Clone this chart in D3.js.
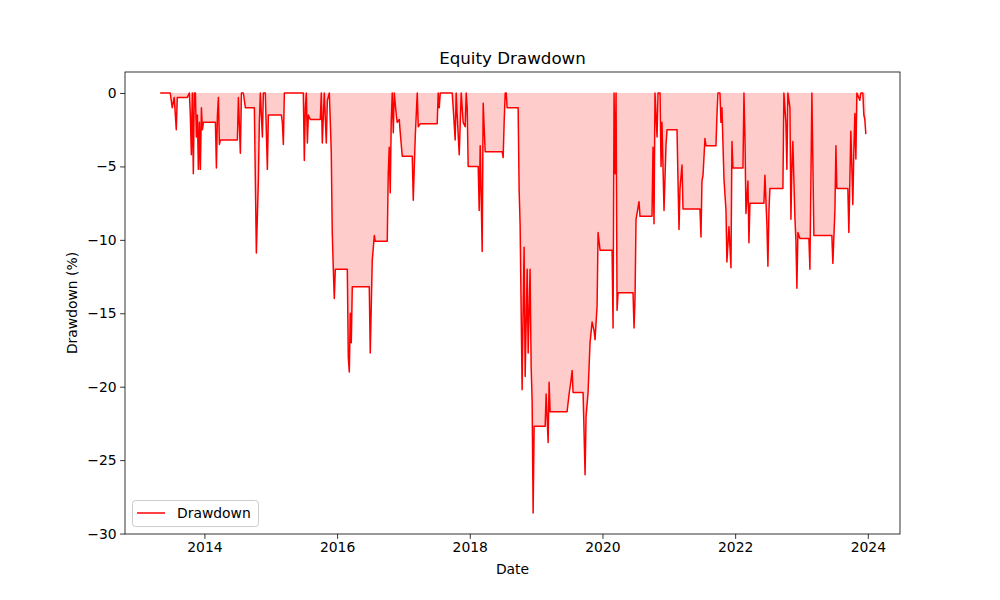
<!DOCTYPE html>
<html><head><meta charset="utf-8">
<script src="https://cdn.jsdelivr.net/npm/d3@7"></script>
<style>body{margin:0;background:#fff;} svg{display:block;font-family:"DejaVu Sans",sans-serif;}</style>
</head><body>
<svg id="c" width="1000" height="600"></svg>
<script>
// decimal years (x) and drawdown in % (y)
const dates = [
2013.333,2013.485,2013.515,2013.545,2013.576,2013.591,2013.742,2013.773,2013.788,2013.803,
2013.818,2013.833,2013.848,2013.864,2013.879,2013.894,2013.909,2013.924,2013.939,2013.955,
2013.970,2013.985,2014.166,2014.181,2014.196,2014.211,2014.226,2014.241,2014.497,2014.512,
2014.542,2014.558,2014.587,2014.617,2014.753,2014.783,2014.813,2014.828,2014.843,2014.874,
2014.889,2014.918,2014.949,2014.964,2015.160,2015.175,2015.190,2015.205,2015.220,2015.491,
2015.506,2015.521,2015.536,2015.552,2015.567,2015.596,2015.747,2015.762,2015.777,2015.807,
2015.837,2015.853,2015.883,2015.898,2015.912,2015.927,2015.943,2015.958,2015.973,2016.154,
2016.169,2016.184,2016.199,2016.214,2016.229,2016.485,2016.500,2016.530,2016.561,2016.575,
2016.756,2016.771,2016.786,2016.801,2016.816,2016.831,2016.847,2016.862,2016.892,2016.906,
2016.937,2016.952,2016.982,2017.133,2017.148,2017.178,2017.208,2017.223,2017.253,2017.509,
2017.524,2017.540,2017.555,2017.735,2017.750,2017.780,2017.795,2017.810,2017.841,2017.871,
2017.900,2017.931,2017.946,2017.961,2017.976,2018.127,2018.142,2018.157,2018.172,2018.187,
2018.202,2018.232,2018.488,2018.503,2018.518,2018.534,2018.549,2018.563,2018.729,2018.744,
2018.759,2018.789,2018.804,2018.819,2018.835,2018.865,2018.880,2018.909,2018.925,2018.940,
2018.955,2018.970,2019.136,2019.151,2019.181,2019.196,2019.211,2019.467,2019.497,2019.528,
2019.543,2019.557,2019.708,2019.738,2019.753,2019.783,2019.813,2019.844,2019.874,2019.888,
2019.919,2019.934,2019.964,2020.145,2020.160,2020.175,2020.190,2020.205,2020.220,2020.235,
2020.461,2020.476,2020.491,2020.506,2020.551,2020.566,2020.747,2020.762,2020.777,2020.792,
2020.823,2020.838,2020.868,2020.883,2020.897,2020.928,2020.958,2020.973,2021.124,2021.139,
2021.154,2021.169,2021.199,2021.214,2021.470,2021.485,2021.500,2021.516,2021.545,2021.560,
2021.711,2021.726,2021.741,2021.771,2021.786,2021.801,2021.832,2021.862,2021.876,2021.907,
2021.922,2021.937,2021.952,2021.967,2022.118,2022.133,2022.148,2022.163,2022.193,2022.208,
2022.223,2022.434,2022.449,2022.479,2022.494,2022.510,2022.524,2022.720,2022.735,2022.765,
2022.780,2022.795,2022.826,2022.841,2022.856,2022.870,2022.901,2022.916,2022.931,2022.946,
2022.976,2023.112,2023.127,2023.157,2023.187,2023.458,2023.473,2023.504,2023.519,2023.533,
2023.699,2023.714,2023.729,2023.744,2023.759,2023.774,2023.789,2023.805,2023.820,2023.835,
2023.879,2023.895,2023.925,2023.940,2023.955,2023.970
];
const drawdown = [
0,0,-1.0,-0.3,-2.5,-0.3,-0.3,0,-1.5,-4.2,
0,-5.5,0,0,-3.0,-1.5,-5.2,-2.0,-5.2,-1.0,
-2.5,-2.0,-2.0,-5.1,-1.5,-0.3,-3.5,-3.2,-3.2,-0.3,
-4.1,0,0,-1.0,-1.0,-10.9,-6.0,-2.0,0,-3.0,
0,0,-5.2,-1.5,-1.5,-2.0,-3.5,0,0,0,
-4.6,-1.0,0,-3.4,-1.5,-1.8,-1.8,0,-3.4,0,
-3.4,-0.5,0,-2.0,-4.0,-9.5,-12.0,-14.0,-12.0,-12.0,
-18.0,-19.0,-15.0,-17.0,-13.2,-13.2,-17.7,-11.4,-9.7,-10.1,
-10.1,-5.5,-3.7,-6.8,-2.0,0,-2.7,0,-1.5,-2.0,
-1.8,-2.7,-4.3,-4.3,-7.3,-3.0,0,-2.3,-2.1,-2.1,
0,-1.0,0,0,-1.0,-3.2,0,-1.5,-4.2,0,
-2.0,-2.3,0,-1.0,-5.0,-5.0,-8.0,-3.6,-7.0,-10.8,
-0.7,-4.0,-4.0,-4.4,-2.0,0,0,-1.0,-1.0,-6.6,
-9.0,-20.2,-15.0,-10.5,-19.3,-12.0,-17.7,-12.0,-18.6,-21.0,
-28.6,-22.7,-22.7,-20.5,-23.8,-19.7,-21.7,-21.7,-20.5,-19.5,
-18.9,-20.4,-20.4,-26.0,-22.0,-20.4,-17.0,-15.6,-16.2,-16.8,
-14.5,-9.5,-10.7,-10.7,-16.0,0,-5.5,0,-14.8,-13.6,
-13.6,-16.0,-14.0,-8.6,-7.4,-8.4,-8.4,-3.7,-8.9,0,
-3.0,0,0,-5.0,-2.0,-8.0,-3.5,-2.5,-2.5,-6.0,
-9.3,-6.5,-4.9,-7.9,-7.9,-9.8,-6.0,-5.6,-3.1,-3.6,
-3.6,-1.5,0,0,-2.0,-1.0,-5.9,-8.0,-11.5,-9.1,
-10.5,-11.9,-3.3,-5.1,-5.1,0,-3.0,-8.2,-6.0,-10.2,
-7.5,-7.5,-5.6,-9.0,-11.8,-8.0,-6.5,-6.5,0,-2.0,
-5.2,0,-1.0,-8.6,-5.0,-3.3,-8.5,-10.0,-13.3,-9.5,
-9.9,-9.9,-12.0,0,-9.7,-9.7,-11.6,-8.0,-3.6,-6.5,
-6.5,-9.5,-6.0,-2.6,-5.0,-7.6,-4.0,-1.4,-4.5,0,
-0.5,0,0,-1.5,-1.8,-2.8
];
const xTicks = [2014, 2016, 2018, 2020, 2022, 2024];
const yTicks = [0, -5, -10, -15, -20, -25, -30];
const title = "Equity Drawdown";
const xLabel = "Date";
const yLabel = "Drawdown (%)";
const seriesName = "Drawdown";

const data = dates.map((d, i) => ({x: d, y: drawdown[i]}));
const L = 125, R = 900, T = 72, B = 534;
const svg = d3.select("#c");
const x = d3.scaleLinear().domain([2012.803, 2024.485]).range([L, R]);
const y = d3.scaleLinear().domain([-30.03, 1.43]).range([B, T]);

svg.append("path").datum(data)
  .attr("d", d3.area().x(d => x(d.x)).y0(y(0)).y1(d => y(d.y)))
  .attr("fill", "rgba(255,0,0,0.2)").attr("stroke", "none");
svg.append("path").datum(data)
  .attr("d", d3.line().x(d => x(d.x)).y(d => y(d.y)))
  .attr("fill", "none").attr("stroke", "#ff0000").attr("stroke-width", 1.5)
  .attr("stroke-linejoin", "round");

const xa = svg.append("g").attr("transform", `translate(0,${B})`)
  .call(d3.axisBottom(x).tickValues(xTicks).tickFormat(d3.format("d")).tickSize(4.9).tickPadding(3.5));
const ya = svg.append("g").attr("transform", `translate(${L},0)`)
  .call(d3.axisLeft(y).tickValues(yTicks).tickFormat(d => d < 0 ? "\u2212" + Math.abs(d) : d).tickSize(4.9).tickPadding(3.5));
[xa, ya].forEach(g => {
  g.select(".domain").remove();
  g.selectAll("text").attr("font-size", "13.9px").attr("fill", "#000").attr("font-family", "DejaVu Sans");
  g.selectAll("line").attr("stroke", "#000").attr("stroke-width", 0.8);
});
svg.append("rect").attr("x", L).attr("y", T).attr("width", R - L).attr("height", B - T)
  .attr("fill", "none").attr("stroke", "#000").attr("stroke-width", 0.8);

svg.append("text").attr("x", (L + R) / 2).attr("y", 64).attr("text-anchor", "middle")
  .attr("font-size", "16.7px").text(title);
svg.append("text").attr("x", (L + R) / 2).attr("y", 574).attr("text-anchor", "middle")
  .attr("font-size", "13.9px").text(xLabel);
svg.append("text").attr("transform", "translate(77,303) rotate(-90)").attr("text-anchor", "middle")
  .attr("font-size", "13.9px").text(yLabel);

const lg = svg.append("g");
lg.append("rect").attr("x", 132.5).attr("y", 500.5).attr("width", 126).attr("height", 26).attr("rx", 3)
  .attr("fill", "rgba(255,255,255,0.8)").attr("stroke", "#cccccc").attr("stroke-width", 1);
lg.append("line").attr("x1", 137).attr("x2", 165).attr("y1", 513).attr("y2", 513)
  .attr("stroke", "#ff0000").attr("stroke-width", 1.5);
lg.append("text").attr("x", 177).attr("y", 518).attr("font-size", "13.9px").text(seriesName);
</script>
</body></html>
